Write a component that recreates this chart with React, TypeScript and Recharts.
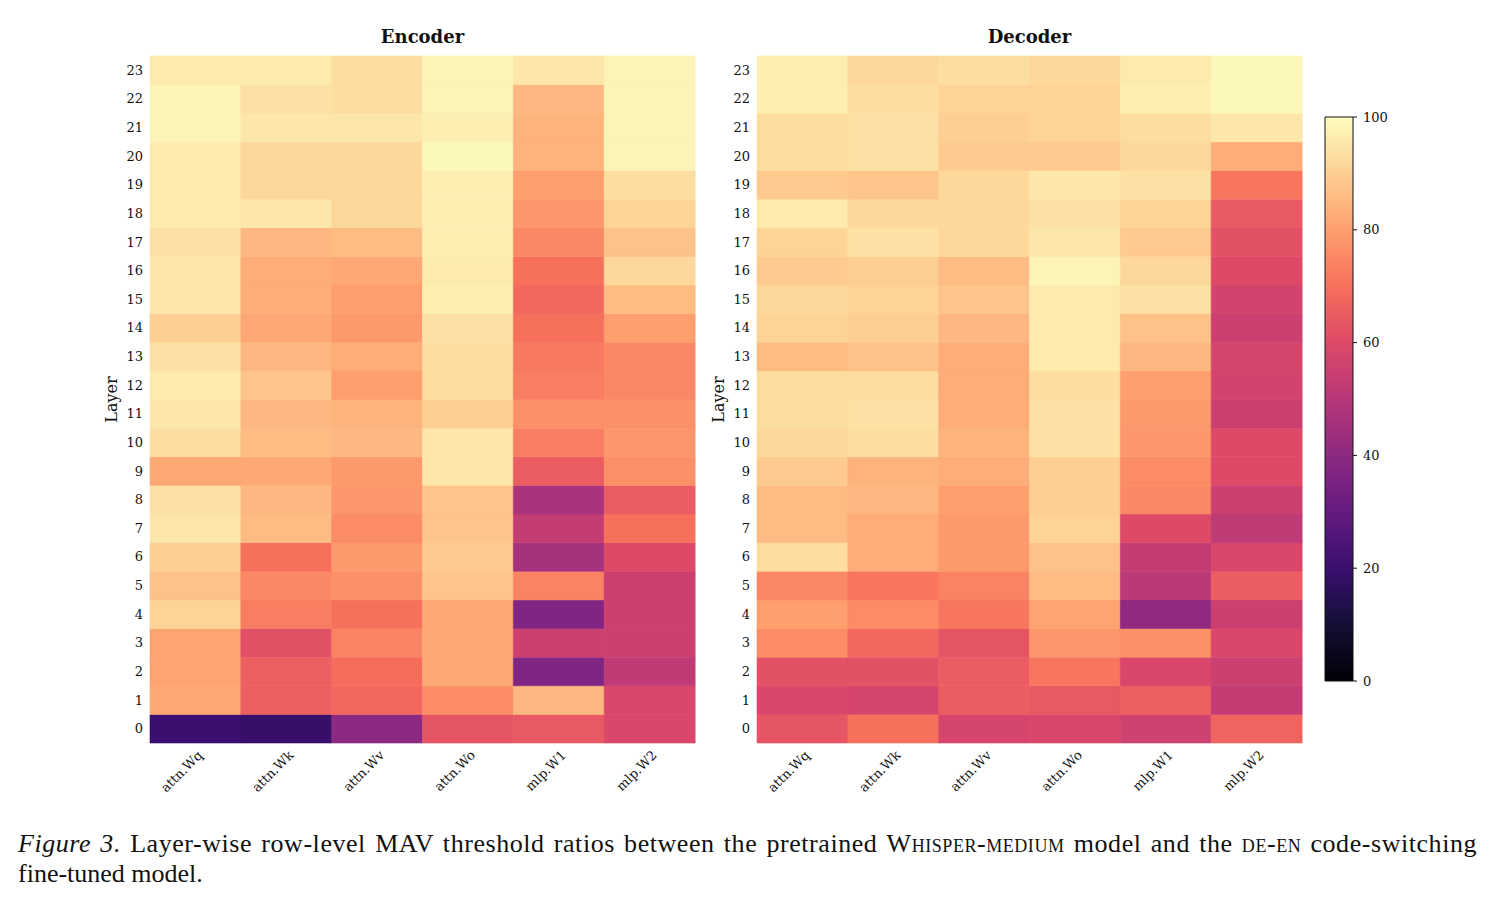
import { BarChart, Bar, Cell, XAxis, YAxis } from 'recharts'

// columns and layers
const columns = ['attn.Wq', 'attn.Wk', 'attn.Wv', 'attn.Wo', 'mlp.W1', 'mlp.W2']
const layers = Array.from({ length: 24 }, (_, i) => i)
const layerTicks = layers.map((l) => l + 0.5)
const barTicks = [0, 20, 40, 60, 80, 100]

// encoder, values listed from layer 0 up to layer 23
const encWq = [20, 82, 81, 81, 91, 87, 90, 95, 94, 82, 93, 95, 96, 94, 90, 95, 95, 94, 96, 96, 96, 98, 98, 96]
const encWk = [19, 66, 66, 62, 73, 75, 70, 86, 85, 82, 86, 85, 88, 85, 82, 83, 83, 85, 95, 92, 92, 95, 94, 96]
const encWv = [40, 68, 69, 74, 70, 77, 79, 76, 78, 79, 85, 84, 80, 83, 79, 80, 82, 86, 92, 92, 92, 95, 93, 93]
const encWo = [63, 76, 82, 82, 82, 88, 89, 88, 88, 95, 95, 90, 93, 93, 94, 97, 96, 97, 97, 97, 99, 97, 98, 98]
const encW1 = [64, 85, 37, 55, 37, 74, 46, 53, 47, 65, 73, 77, 73, 72, 70, 68, 70, 75, 78, 80, 84, 84, 85, 95]
const encW2 = [59, 59, 52, 55, 55, 55, 60, 70, 65, 77, 78, 77, 75, 75, 80, 86, 92, 87, 91, 93, 98, 98, 98, 98]

// decoder
const decWq = [63, 59, 62, 76, 80, 75, 93, 86, 86, 89, 92, 93, 93, 86, 91, 92, 89, 91, 96, 89, 93, 93, 97, 97]
const decWk = [70, 58, 62, 68, 76, 71, 83, 83, 85, 84, 93, 94, 93, 87, 90, 91, 90, 94, 92, 88, 94, 94, 93, 92]
const decWv = [58, 65, 65, 63, 71, 74, 79, 79, 80, 83, 84, 83, 83, 83, 85, 88, 86, 92, 92, 92, 89, 90, 91, 93]
const decWo = [59, 64, 71, 78, 81, 86, 87, 91, 90, 90, 94, 94, 93, 96, 96, 96, 98, 95, 94, 95, 89, 91, 91, 92]
const decW1 = [56, 66, 59, 77, 41, 51, 53, 60, 75, 76, 78, 79, 80, 85, 87, 94, 92, 89, 91, 94, 92, 93, 97, 96]
const decW2 = [67, 53, 55, 59, 55, 65, 59, 52, 55, 60, 60, 55, 57, 58, 55, 57, 60, 62, 64, 71, 83, 95, 99, 99]

const encoder = [encWq, encWk, encWv, encWo, encW1, encW2]
const decoder = [decWq, decWk, decWv, decWo, decW1, decW2]

// magma colormap, 0..1 in steps of 0.1
const magmaStops = ['#000004', '#140e36', '#3b0f70', '#641a80', '#8c2981', '#b73779', '#de4968', '#f7705c', '#fe9f6d', '#fecf92', '#fcfdbf']

const hex = (h: string) => [1, 3, 5].map((i) => parseInt(h.slice(i, i + 2), 16))
const magma = (v: number) => {
  const t = Math.max(0, Math.min(1, v / 100)) * 10
  const i = Math.min(9, Math.floor(t))
  const f = t - i
  const a = hex(magmaStops[i])
  const b = hex(magmaStops[i + 1])
  const c = a.map((x, k) => Math.round(x + (b[k] - x) * f))
  return `rgb(${c[0]},${c[1]},${c[2]})`
}

const tickFont = 'DejaVu Serif'

const XTick = (props: any) => {
  const { x, y, payload } = props
  return (
    <g transform={`translate(${x + 8},${y + 5})`}>
      <text x={0} y={0} transform="rotate(-45)" textAnchor="end" fontFamily={tickFont} fontSize={13} fill="#111">
        {payload.value}
      </text>
    </g>
  )
}

const YTick = (props: any) => {
  const { x, y, payload } = props
  return (
    <text x={x + 1} y={y} textAnchor="end" dominantBaseline="central" fontFamily={tickFont} fontSize={13} fill="#111">
      {Math.floor(payload.value)}
    </text>
  )
}

const BarTick = (props: any) => {
  const { x, y, payload } = props
  return (
    <text x={x + 4} y={y} textAnchor="start" dominantBaseline="central" fontFamily={tickFont} fontSize={13} fill="#111">
      {payload.value}
    </text>
  )
}

const LayerLabel = (props: any) => {
  const vb = props.viewBox
  const cx = vb.x + 1
  const cy = vb.y + vb.height / 2
  return (
    <text x={cx} y={cy} transform={`rotate(-90, ${cx}, ${cy})`} textAnchor="middle" dominantBaseline="central"
      fontFamily={tickFont} fontSize={16} fill="#111">
      Layer
    </text>
  )
}

function Heatmap({ title, cols, left }: { title: string; cols: number[][]; left: number }) {
  const data = columns.map((name) => {
    const row: any = { name }
    layers.forEach((l) => (row['L' + l] = 1))
    return row
  })
  return (
    <div style={{ position: 'absolute', left, top: 0, width: 640, height: 810 }}>
      <div style={{
        position: 'absolute', left: 90, top: 26, width: 545, textAlign: 'center',
        fontFamily: tickFont, fontWeight: 'bold', fontSize: 18, lineHeight: '22px', color: '#111'
      }}>
        {title}
      </div>
      <BarChart width={640} height={810} data={data} barCategoryGap={0} barGap={0}
        margin={{ top: 56, right: 5, bottom: 7, left: 50 }}>
        <XAxis dataKey="name" interval={0} tickLine={false} axisLine={false} height={60} tick={<XTick />} />
        <YAxis type="number" domain={[0, 24]} ticks={layerTicks} interval={0} width={40}
          tickLine={false} axisLine={false} tick={<YTick />}
          label={<LayerLabel />} />
        {layers.map((l) => (
          <Bar key={l} dataKey={'L' + l} stackId="s" isAnimationActive={false}>
            {cols.map((arr, c) => (
              <Cell key={c} fill={magma(arr[l])} stroke={magma(arr[l])} strokeWidth={0.6} />
            ))}
          </Bar>
        ))}
      </BarChart>
    </div>
  )
}

function ColorBar() {
  return (
    <div style={{ position: 'absolute', left: 1300, top: 100, width: 110, height: 600 }}>
      <BarChart width={110} height={600} data={[{ name: 'v', v: 100 }]} barCategoryGap={0}
        margin={{ top: 17, right: 7, bottom: 19, left: 25 }}>
        <defs>
          <linearGradient id="magmaGrad" x1="0" y1="1" x2="0" y2="0">
            {magmaStops.map((c, i) => (
              <stop key={i} offset={`${i * 10}%`} stopColor={c} />
            ))}
          </linearGradient>
        </defs>
        <XAxis dataKey="name" hide height={0} />
        <YAxis orientation="right" type="number" domain={[0, 100]} ticks={barTicks} width={50}
          axisLine={false} tickSize={4} tickMargin={2} tickLine={{ stroke: '#111' }} tick={<BarTick />} />
        <Bar dataKey="v" fill="url(#magmaGrad)" stroke="#111" strokeWidth={1} isAnimationActive={false} />
      </BarChart>
    </div>
  )
}

const sc = { fontVariant: 'small-caps' as const }

export default function App() {
  return (
    <div style={{ position: 'absolute', left: 0, top: 0, width: 1491, height: 905, background: '#fff' }}>
      <Heatmap title="Encoder" cols={encoder} left={60} />
      <Heatmap title="Decoder" cols={decoder} left={667} />
      <ColorBar />
      <div style={{
        position: 'absolute', left: 18, top: 829, width: 1459,
        fontFamily: '"Liberation Serif", serif', fontSize: 26, lineHeight: '30px', color: '#111'
      }}>
        <div style={{ textAlign: 'justify', textAlignLast: 'justify', whiteSpace: 'nowrap', letterSpacing: '0.55px' }}>
          <i>Figure 3.</i> Layer-wise row-level MAV threshold ratios between the pretrained <span style={sc}>Whisper-medium</span> model and the <span style={sc}>de-en</span> code-switching
        </div>
        <div>fine-tuned model.</div>
      </div>
    </div>
  )
}
